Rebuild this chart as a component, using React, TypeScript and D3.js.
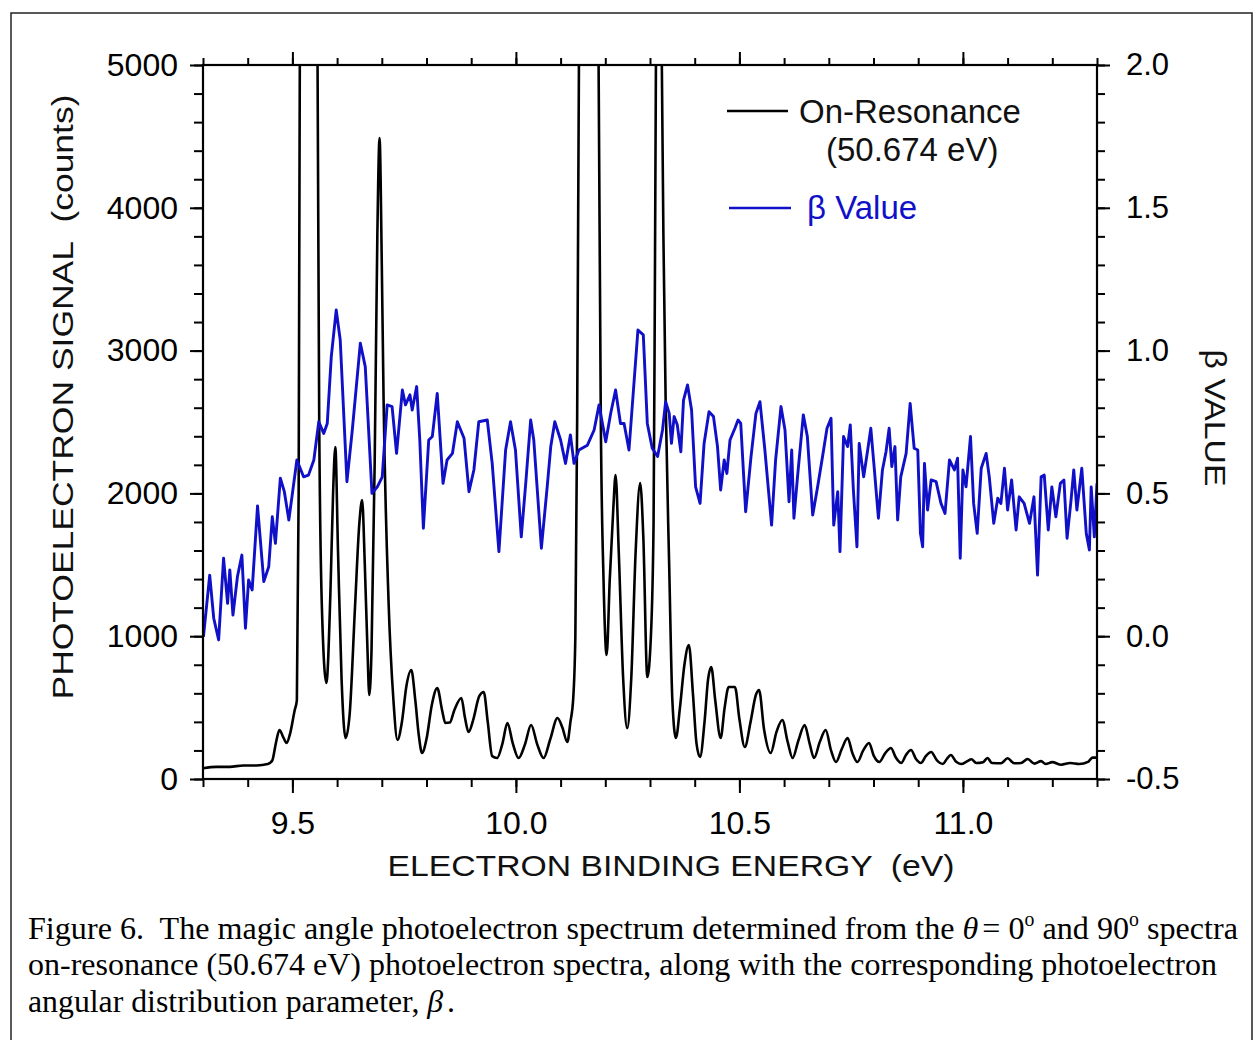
import React, { useEffect, useRef } from "react";
import * as d3 from "d3";

// on-resonance spectrum (black): binding energy (eV) / counts
const sigEnergy = [
  9.300, 9.330, 9.360, 9.390, 9.420, 9.445, 9.455, 9.463, 9.471, 9.480, 9.487, 9.495, 9.505, 9.510, 9.514, 9.517,
  9.525, 9.537, 9.548, 9.556, 9.560, 9.566, 9.576, 9.585, 9.591, 9.596, 9.602, 9.610, 9.619, 9.628, 9.640, 9.650,
  9.656, 9.662, 9.668, 9.672, 9.677, 9.684, 9.690, 9.695, 9.700, 9.704, 9.715, 9.726, 9.735, 9.745, 9.755, 9.766,
  9.775, 9.783, 9.790, 9.800, 9.812, 9.824, 9.835, 9.842, 9.852, 9.862, 9.878, 9.886, 9.894, 9.905, 9.918, 9.928,
  9.937, 9.947, 9.958, 9.970, 9.981, 9.993, 10.006, 10.020, 10.034, 10.048, 10.062, 10.077, 10.093, 10.104, 10.115,
  10.122, 10.128, 10.133, 10.137, 10.141, 10.146, 10.160, 10.178, 10.185, 10.190, 10.196, 10.203, 10.210, 10.218,
  10.223, 10.230, 10.240, 10.249, 10.258, 10.268, 10.278, 10.285, 10.294, 10.302, 10.308, 10.311, 10.314, 10.319,
  10.325, 10.330, 10.335, 10.343, 10.350, 10.358, 10.367, 10.377, 10.387, 10.396, 10.404, 10.412, 10.422, 10.430,
  10.437, 10.446, 10.458, 10.467, 10.476, 10.490, 10.500, 10.512, 10.525, 10.537, 10.544, 10.555, 10.570, 10.583,
  10.596, 10.608, 10.619, 10.632, 10.646, 10.657, 10.667, 10.680, 10.693, 10.705, 10.716, 10.729, 10.742, 10.753,
  10.764, 10.777, 10.790, 10.801, 10.813, 10.826, 10.839, 10.850, 10.862, 10.873, 10.884, 10.895, 10.906, 10.917,
  10.929, 10.942, 10.955, 10.964, 10.973, 10.985, 10.996, 11.010, 11.019, 11.030, 11.045, 11.055, 11.065, 11.085,
  11.100, 11.115, 11.130, 11.145, 11.160, 11.175, 11.185, 11.200, 11.220, 11.240, 11.260, 11.280, 11.290, 11.300,
];
const sigCounts = [
  75, 85, 85, 95, 95, 105, 130, 250, 343, 290, 252, 320, 480, 550, 2000, 5500,
  7500, 9000, 7500, 5200, 2500, 1200, 672, 1300, 2000, 2325, 1600, 700, 287, 450, 1200, 1800,
  1954, 1500, 900, 588, 900, 2200, 3800, 4489, 3600, 2654, 1254, 553, 273, 400, 650, 763,
  550, 300, 182, 280, 520, 637, 480, 392, 395, 480, 567, 430, 329, 420, 580, 609,
  400, 160, 147, 250, 392, 250, 147, 240, 378, 240, 147, 280, 427, 360, 259,
  400, 553, 1000, 2500, 5000, 6800, 9000, 7000, 5000, 2500, 1400, 868, 1400, 1900,
  2129, 1600, 700, 357, 700, 1600, 2073, 1700, 714, 1000, 1800, 3500, 5500, 8000,
  5500, 3800, 2654, 1485, 553, 287, 500, 800, 938, 600, 250, 154, 400, 700,
  784, 550, 287, 500, 644, 644, 420, 224, 400, 590, 623, 350, 182, 330,
  413, 260, 147, 270, 378, 250, 147, 260, 343, 200, 119, 210, 287, 180,
  119, 200, 252, 160, 119, 180, 217, 150, 112, 170, 203, 140, 112, 160,
  189, 130, 105, 140, 168, 120, 105, 125, 138, 112, 118, 147, 112, 110,
  145, 110, 112, 140, 108, 125, 105, 118, 100, 112, 105, 120, 150, 150,
];

// beta parameter (blue): binding energy (eV) / beta
const betaEnergy = [
  9.301, 9.315, 9.324, 9.335, 9.346, 9.355, 9.360, 9.367, 9.377, 9.387, 9.395, 9.402, 9.410, 9.422, 9.436, 9.447,
  9.455, 9.462, 9.473, 9.482, 9.492, 9.499, 9.510, 9.525, 9.536, 9.548, 9.559, 9.570, 9.578, 9.587, 9.598, 9.607,
  9.622, 9.634, 9.652, 9.663, 9.678, 9.690, 9.701, 9.712, 9.723, 9.733, 9.746, 9.753, 9.763, 9.768, 9.778, 9.785,
  9.793, 9.805, 9.813, 9.824, 9.837, 9.846, 9.858, 9.869, 9.884, 9.895, 9.906, 9.917, 9.936, 9.947, 9.962, 9.977,
  9.988, 9.999, 10.012, 10.022, 10.033, 10.040, 10.057, 10.070, 10.078, 10.087, 10.100, 10.111, 10.122, 10.130,
  10.141, 10.160, 10.175, 10.186, 10.201, 10.212, 10.223, 10.234, 10.242, 10.253, 10.263, 10.273, 10.285, 10.294,
  10.305, 10.317, 10.328, 10.335, 10.343, 10.348, 10.354, 10.361, 10.369, 10.375, 10.384, 10.393, 10.402, 10.412,
  10.421, 10.432, 10.442, 10.451, 10.458, 10.466, 10.472, 10.479, 10.490, 10.497, 10.503, 10.514, 10.526, 10.537,
  10.546, 10.557, 10.572, 10.581, 10.593, 10.602, 10.611, 10.617, 10.622, 10.630, 10.643, 10.652, 10.664, 10.675,
  10.686, 10.696, 10.705, 10.711, 10.720, 10.725, 10.733, 10.742, 10.748, 10.755, 10.763, 10.768, 10.778, 10.787,
  10.794, 10.802, 10.811, 10.820, 10.828, 10.835, 10.841, 10.848, 10.854, 10.861, 10.873, 10.882, 10.891, 10.899,
  10.905, 10.910, 10.914, 10.921, 10.929, 10.940, 10.951, 10.960, 10.970, 10.981, 10.988, 10.994, 11.000, 11.007,
  11.017, 11.024, 11.032, 11.041, 11.052, 11.059, 11.069, 11.078, 11.085, 11.093, 11.100, 11.109, 11.119, 11.126,
  11.137, 11.149, 11.159, 11.167, 11.175, 11.182, 11.191, 11.199, 11.208, 11.218, 11.226, 11.233, 11.242, 11.248,
  11.255, 11.266, 11.276, 11.283, 11.287, 11.294, 11.300,
];
const betaValues = [
  -0.002, 0.214, 0.063, -0.013, 0.273, 0.115, 0.232, 0.074, 0.208, 0.284, 0.028, 0.197, 0.162, 0.456, 0.191, 0.243,
  0.418, 0.325, 0.553, 0.506, 0.407, 0.488, 0.617, 0.558, 0.564, 0.617, 0.751, 0.710, 0.745, 0.979, 1.142, 1.037,
  0.541, 0.722, 1.026, 0.944, 0.500, 0.523, 0.558, 0.810, 0.804, 0.640, 0.862, 0.810, 0.845, 0.792, 0.874, 0.687,
  0.378, 0.687, 0.699, 0.850, 0.535, 0.617, 0.640, 0.751, 0.693, 0.506, 0.582, 0.751, 0.757, 0.605, 0.296, 0.652,
  0.751, 0.652, 0.348, 0.535, 0.757, 0.687, 0.308, 0.523, 0.664, 0.751, 0.687, 0.605, 0.705, 0.605,
  0.652, 0.669, 0.722, 0.810, 0.681, 0.780, 0.862, 0.745, 0.745, 0.652, 0.862, 1.072, 1.055, 0.745,
  0.658, 0.629, 0.722, 0.821, 0.780, 0.675, 0.769, 0.740, 0.646, 0.827, 0.880, 0.792, 0.523, 0.465,
  0.675, 0.786, 0.769, 0.664, 0.512, 0.617, 0.570, 0.687, 0.728, 0.757, 0.745, 0.436, 0.629, 0.780,
  0.821, 0.652, 0.389, 0.617, 0.804, 0.722, 0.471, 0.652, 0.413, 0.558, 0.775, 0.699, 0.424, 0.523,
  0.629, 0.728, 0.763, 0.389, 0.506, 0.296, 0.699, 0.664, 0.740, 0.512, 0.313, 0.675, 0.558, 0.652,
  0.728, 0.582, 0.413, 0.582, 0.646, 0.728, 0.594, 0.664, 0.407, 0.558, 0.640, 0.815, 0.658, 0.652,
  0.360, 0.313, 0.605, 0.442, 0.547, 0.541, 0.465, 0.430, 0.617, 0.582, 0.623, 0.273, 0.582, 0.523,
  0.699, 0.465, 0.360, 0.588, 0.640, 0.558, 0.395, 0.483, 0.465, 0.588, 0.442, 0.547, 0.372, 0.488,
  0.465, 0.395, 0.488, 0.214, 0.558, 0.564, 0.372, 0.523, 0.418, 0.535, 0.547, 0.343, 0.477, 0.582,
  0.442, 0.588, 0.360, 0.302, 0.523, 0.348, 0.535,
];

// ticks
const xMajorTicks = [9.5, 10.0, 10.5, 11.0];
const xMinorTicks = [9.3, 9.4, 9.5, 9.6, 9.7, 9.8, 9.9, 10.0, 10.1, 10.2, 10.3, 10.4, 10.5, 10.6, 10.7, 10.8, 10.9, 11.0, 11.1, 11.2, 11.3];
const countMajorTicks = [0, 1000, 2000, 3000, 4000, 5000];
const countMinorTicks = d3.range(0, 5001, 200);
const betaMajorTicks = [-0.5, 0.0, 0.5, 1.0, 1.5, 2.0];
const betaMinorTicks = d3.range(-5, 21, 1).map((v) => v / 10);

const BLUE = "#1010c8";
const SANS = "'Liberation Sans', Arial, Helvetica, sans-serif";
const SERIF = "'Liberation Serif', 'Times New Roman', serif";

const App = () => {
  const svgRef = useRef<SVGSVGElement | null>(null);

  useEffect(() => {
    const W = 1254;
    const H = 1040;
    const left = 203, right = 1097, top = 65, bottom = 779;

    const svg = d3.select(svgRef.current);
    svg.selectAll("*").remove();
    svg.attr("width", W).attr("height", H);

    svg.append("rect").attr("width", W).attr("height", H).attr("fill", "#fff");
    // outer figure frame
    svg.append("rect")
      .attr("x", 11).attr("y", 13).attr("width", 1241).attr("height", 1040)
      .attr("fill", "none").attr("stroke", "#222").attr("stroke-width", 1.5);

    const x = d3.scaleLinear().domain([9.3, 11.3]).range([left, right]);
    const yCounts = d3.scaleLinear().domain([0, 5000]).range([bottom, top]);
    const yBeta = d3.scaleLinear().domain([-0.5, 2.0]).range([bottom, top]);

    svg.append("defs").append("clipPath").attr("id", "plot-clip")
      .append("rect").attr("x", left).attr("y", top).attr("width", right - left).attr("height", bottom - top);

    const styleAxis = (g, size) => {
      g.select(".domain").remove();
      g.selectAll("line").attr("stroke", "#000").attr("stroke-width", 2);
      g.attr("font-family", SANS).attr("font-size", size);
      g.selectAll("text").attr("fill", "#000");
    };

    // bottom axis
    svg.append("g").attr("transform", `translate(0,${bottom})`)
      .call(d3.axisBottom(x).tickValues(xMinorTicks).tickSize(8).tickFormat(() => ""))
      .call((g) => styleAxis(g, 32));
    svg.append("g").attr("transform", `translate(0,${bottom})`)
      .call(d3.axisBottom(x).tickValues(xMajorTicks).tickSize(14).tickPadding(18).tickFormat(d3.format(".1f")))
      .call((g) => styleAxis(g, 32));

    // top axis (mirror)
    svg.append("g").attr("transform", `translate(0,${top})`)
      .call(d3.axisTop(x).tickValues(xMinorTicks).tickSize(7).tickFormat(() => ""))
      .call((g) => styleAxis(g, 32));
    svg.append("g").attr("transform", `translate(0,${top})`)
      .call(d3.axisTop(x).tickValues(xMajorTicks).tickSize(13).tickFormat(() => ""))
      .call((g) => styleAxis(g, 32));

    // left axis
    svg.append("g").attr("transform", `translate(${left},0)`)
      .call(d3.axisLeft(yCounts).tickValues(countMinorTicks).tickSize(9).tickFormat(() => ""))
      .call((g) => styleAxis(g, 32));
    svg.append("g").attr("transform", `translate(${left},0)`)
      .call(d3.axisLeft(yCounts).tickValues(countMajorTicks).tickSize(13).tickPadding(12).tickFormat(d3.format("d")))
      .call((g) => styleAxis(g, 32));

    // right axis
    svg.append("g").attr("transform", `translate(${right},0)`)
      .call(d3.axisRight(yBeta).tickValues(betaMinorTicks).tickSize(8).tickFormat(() => ""))
      .call((g) => styleAxis(g, 31));
    svg.append("g").attr("transform", `translate(${right},0)`)
      .call(d3.axisRight(yBeta).tickValues(betaMajorTicks).tickSize(13).tickPadding(16).tickFormat((d) => d.toFixed(1)))
      .call((g) => styleAxis(g, 31));

    // curves
    const plot = svg.append("g").attr("clip-path", "url(#plot-clip)");

    const sigLine = d3.line<number>()
      .x((d, i) => x(sigEnergy[i]))
      .y((d) => yCounts(d))
      .curve(d3.curveMonotoneX);
    plot.append("path").datum(sigCounts)
      .attr("d", sigLine).attr("fill", "none").attr("stroke", "#000")
      .attr("stroke-width", 2.6).attr("stroke-linejoin", "round");

    const betaLine = d3.line<number>()
      .x((d, i) => x(betaEnergy[i]))
      .y((d) => yBeta(d));
    plot.append("path").datum(betaValues)
      .attr("d", betaLine).attr("fill", "none").attr("stroke", BLUE)
      .attr("stroke-width", 2.9).attr("stroke-linejoin", "round");

    // plot frame
    svg.append("rect")
      .attr("x", left).attr("y", top).attr("width", right - left).attr("height", bottom - top)
      .attr("fill", "none").attr("stroke", "#000").attr("stroke-width", 2.2);

    // legend
    const legend = svg.append("g").attr("font-family", SANS).attr("font-size", 33);
    legend.append("line").attr("x1", 727).attr("x2", 788).attr("y1", 111).attr("y2", 111)
      .attr("stroke", "#000").attr("stroke-width", 2.6);
    legend.append("text").attr("x", 799).attr("y", 123).attr("fill", "#111").text("On-Resonance");
    legend.append("text").attr("x", 826).attr("y", 161).attr("fill", "#111").text("(50.674 eV)");
    legend.append("line").attr("x1", 729).attr("x2", 791).attr("y1", 208).attr("y2", 208)
      .attr("stroke", BLUE).attr("stroke-width", 2.6);
    legend.append("text").attr("x", 807).attr("y", 219).attr("fill", BLUE).text("\u03b2 Value");

    // axis titles
    svg.append("text")
      .attr("x", 671).attr("y", 876).attr("text-anchor", "middle")
      .attr("font-family", SANS).attr("font-size", 29).attr("fill", "#111")
      .attr("textLength", 567).attr("lengthAdjust", "spacingAndGlyphs")
      .attr("xml:space", "preserve")
      .text("ELECTRON BINDING ENERGY  (eV)");
    svg.append("text")
      .attr("transform", "translate(73,397) rotate(-90)").attr("text-anchor", "middle")
      .attr("font-family", SANS).attr("font-size", 29).attr("fill", "#111")
      .attr("textLength", 605).attr("lengthAdjust", "spacingAndGlyphs")
      .attr("xml:space", "preserve")
      .text("PHOTOELECTRON SIGNAL  (counts)");
    svg.append("text")
      .attr("transform", "translate(1205,418) rotate(90)").attr("text-anchor", "middle")
      .attr("font-family", SANS).attr("font-size", 29).attr("fill", "#111")
      .attr("textLength", 137).attr("lengthAdjust", "spacingAndGlyphs")
      .text("\u03b2 VALUE");

    // caption
    const cap = svg.append("g").attr("font-family", SERIF).attr("font-size", 32.5).attr("fill", "#000");
    const l1 = cap.append("text").attr("x", 28).attr("y", 939)
      .attr("xml:space", "preserve").style("white-space", "pre")
      .attr("textLength", 1210).attr("lengthAdjust", "spacingAndGlyphs");
    l1.append("tspan").text("Figure 6.  The magic angle photoelectron spectrum determined from the ");
    l1.append("tspan").attr("font-style", "italic").text("\u03b8");
    l1.append("tspan").attr("dx", 4).text("= 0");
    l1.append("tspan").attr("font-size", 20).attr("dy", -13).text("o");
    l1.append("tspan").attr("dy", 13).text(" and 90");
    l1.append("tspan").attr("font-size", 20).attr("dy", -13).text("o");
    l1.append("tspan").attr("dy", 13).text(" spectra");
    cap.append("text").attr("x", 28).attr("y", 975)
      .attr("textLength", 1189).attr("lengthAdjust", "spacingAndGlyphs")
      .text("on-resonance (50.674 eV) photoelectron spectra, along with the corresponding photoelectron");
    const l3 = cap.append("text").attr("x", 28).attr("y", 1012)
      .attr("textLength", 427).attr("lengthAdjust", "spacingAndGlyphs");
    l3.append("tspan").text("angular distribution parameter, ");
    l3.append("tspan").attr("font-style", "italic").text("\u03b2");
    l3.append("tspan").attr("dx", 4).text(".");
  }, []);

  return <svg ref={svgRef} style={{ position: "absolute", left: 0, top: 0, display: "block" }}></svg>;
};

export default App;
